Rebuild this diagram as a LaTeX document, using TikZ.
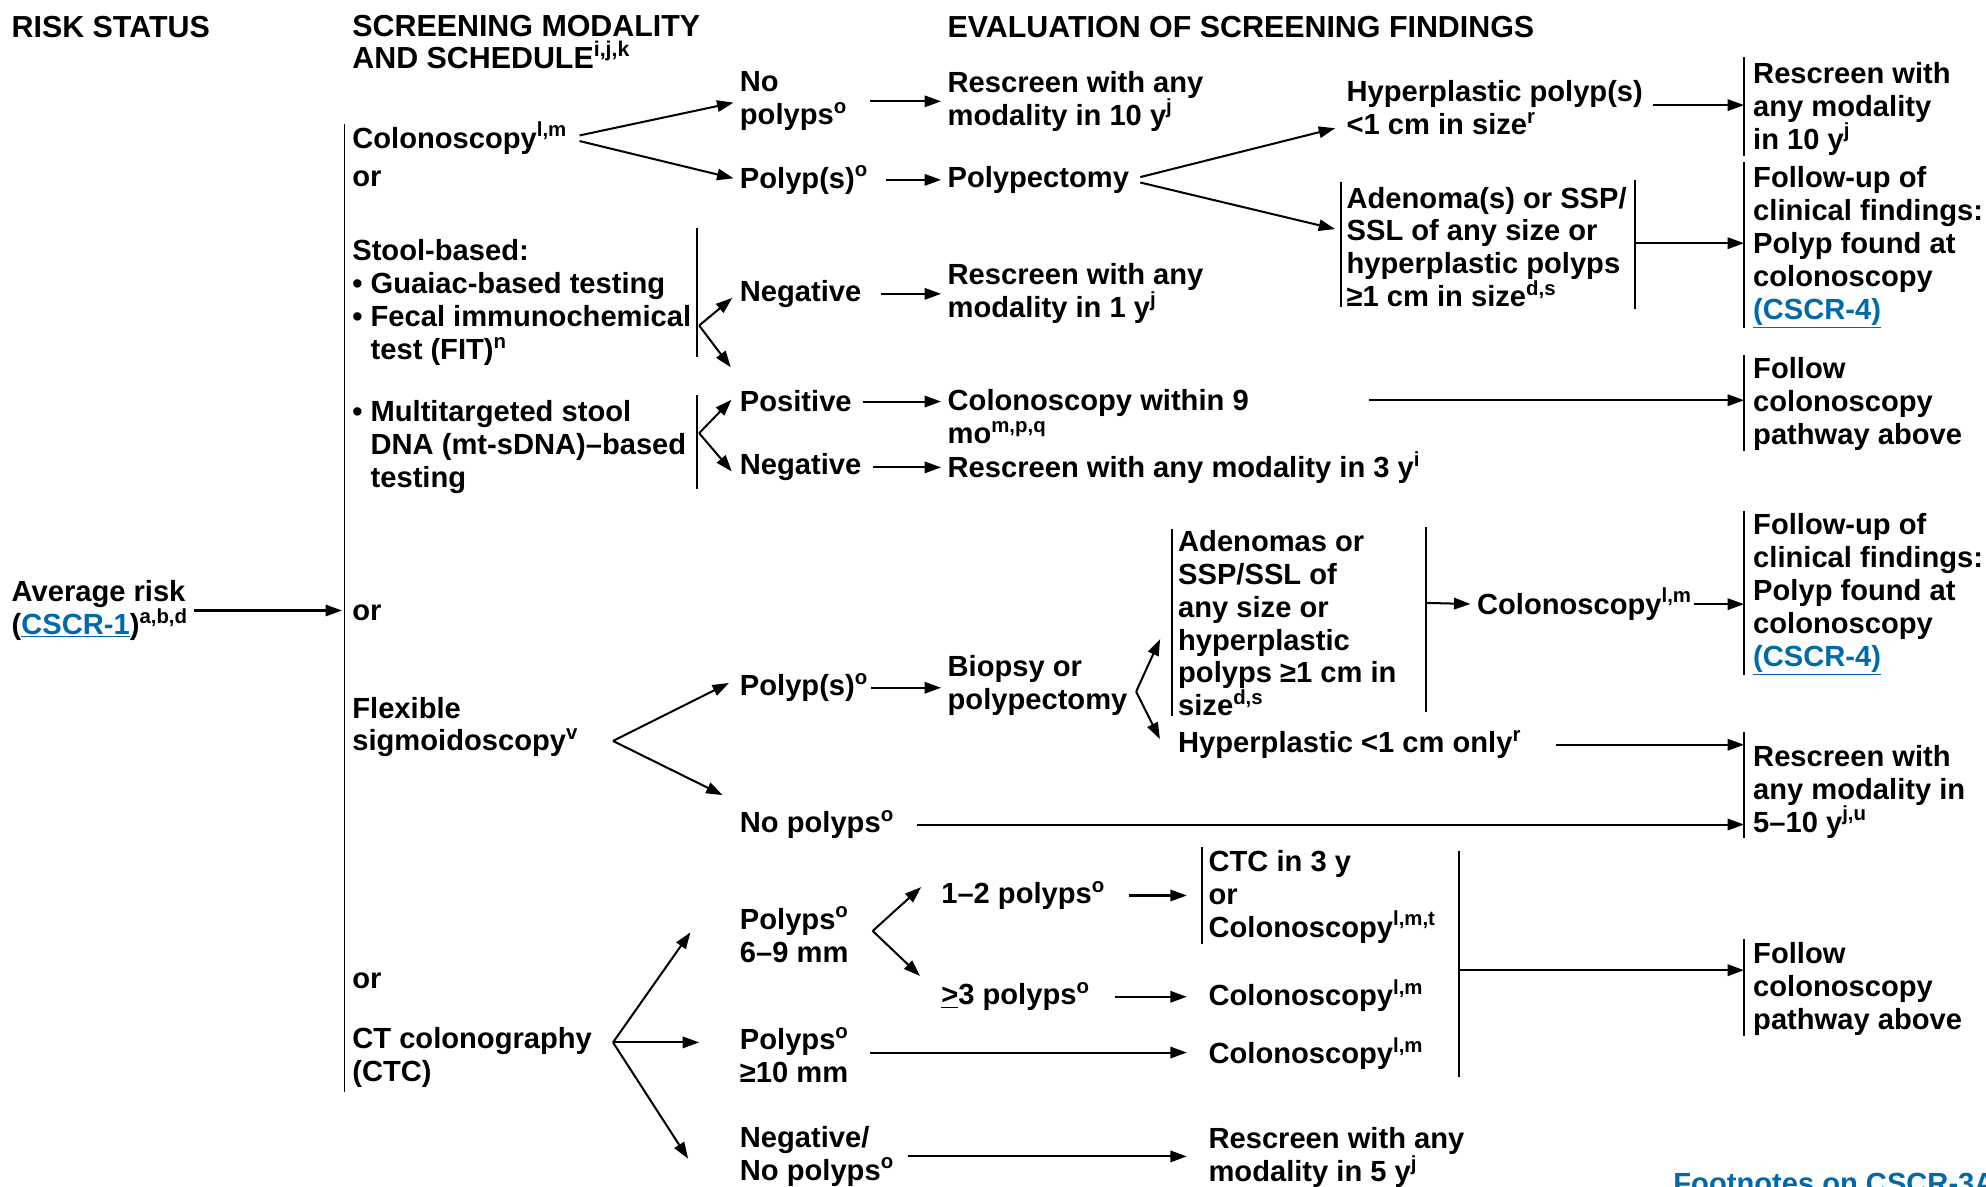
\documentclass[tikz,border=0pt]{standalone}
\usepackage{fontspec}
\setmainfont{Liberation Sans}
\usepackage{tikz}
\usetikzlibrary{arrows.meta}
\definecolor{nccnblue}{RGB}{0,105,170}
\newcommand{\lnk}[1]{\textcolor{nccnblue}{\underline{#1}}}
\newcommand{\sps}[1]{\textsuperscript{#1}}

\begin{document}
\begin{tikzpicture}[x=1pt,y=-1pt,
	txt/.style={anchor=west,align=left,inner sep=0pt,yshift=-2pt,font=\fontsize{23}{26}\selectfont\bfseries},
	head/.style={txt,font=\fontsize{24}{25}\selectfont\bfseries},
	arr/.style={-{Triangle[length=13pt,width=9pt]},line width=1.6pt,shorten >=5pt},
	bar/.style={line width=1.5pt}]

	\useasboundingbox (0,0) rectangle (1568,937);

	%% Headings %%
	\node [head] (hrisk) at (9,19) {RISK STATUS};
	\node [head] (hscreen) at (278,31) {SCREENING MODALITY\\AND SCHEDULE\sps{i,j,k}};
	\node [head] (heval) at (748,19) {EVALUATION OF SCREENING FINDINGS};

	%% Risk Status %%
	\node [txt] (avg) at (9,480) {Average risk\\(\lnk{CSCR-1})\sps{a,b,d}};
	\coordinate (spinetop) at (272,98);
	\coordinate (spinebot) at (272,862);
	\draw [bar] (spinetop) -- (spinebot);
	\draw [arr,shorten <=5pt,shorten >=2pt] (avg.east) -- (avg.east -| spinetop);

	%% Screening Modalities %%
	\node [txt] (colo) at (278,107) {Colonoscopy\sps{l,m}};
	\node [txt] (or1) at (278,139) {or};
	\node [txt] (stool) at (278,237) {Stool-based:\\• Guaiac-based testing\\• Fecal immunochemical\\\phantom{• }test (FIT)\sps{n}};
	\node [txt] (mts) at (278,351) {• Multitargeted stool\\\phantom{• }DNA (mt-sDNA)–based\\\phantom{• }testing};
	\node [txt] (or2) at (278,482) {or};
	\node [txt] (flex) at (278,572) {Flexible\\sigmoidoscopy\sps{v}};
	\node [txt] (or3) at (278,772) {or};
	\node [txt] (ctc) at (278,833) {CT colonography\\(CTC)};
	\draw [bar] (550,180) -- (550,282);
	\draw [bar] (550,312) -- (550,386);

	%% Colonoscopy %%
	\node [txt] (nopol) at (584,78) {No\\polyps\sps{o}};
	\node [txt] (polyp) at (584,140) {Polyp(s)\sps{o}};
	\node [txt] (rs10) at (748,78) {Rescreen with any\\modality in 10 y\sps{j}};
	\node [txt] (polypect) at (748,140) {Polypectomy};
	\node [txt] (hyp) at (1063,83) {Hyperplastic polyp(s)\\<1 cm in size\sps{r}};
	\node [txt] (aden) at (1063,193) {Adenoma(s) or SSP/\\SSL of any size or\\hyperplastic polyps\\≥1 cm in size\sps{d,s}};
	\node [txt] (rs10b) at (1384,84) {Rescreen with\\any modality\\in 10 y\sps{j}};
	\node [txt] (fu1) at (1384,193) {Follow-up of\\clinical findings:\\Polyp found at\\colonoscopy\\\lnk{(CSCR-4)}};
	\draw [arr,shorten <=10pt] (colo.east) -- (nopol.west);
	\draw [arr,shorten <=10pt] (colo.east) -- (polyp.west);
	\draw [arr,shorten <=18pt] (nopol.east) -- (rs10.west);
	\draw [arr,shorten <=14pt] (polyp.east) -- (polypect.west);
	\draw [arr,shorten <=9pt] (polypect.east) -- ([xshift=-4pt,yshift=-15pt]hyp.west);
	\draw [arr,shorten <=9pt] (polypect.east) -- ([xshift=-4pt,yshift=13pt]aden.west);
	\draw [arr,shorten <=8pt,shorten >=7pt] ([yshift=2pt]hyp.east) -- ([yshift=2pt]hyp.east -| rs10b.west);
	\draw [bar] (1291,142) -- (1291,244);
	\coordinate (adenout) at (1291,192);
	\draw [arr,shorten >=7pt] (adenout) -- (adenout -| fu1.west);

	%% Stool-based Tests %%
	\coordinate (sfork) at (552,257);
	\coordinate (mfork) at (552,342);
	\node [txt] (neg1) at (584,230) {Negative};
	\node [txt] (rs1) at (748,230) {Rescreen with any\\modality in 1 y\sps{j}};
	\node [txt] (pos) at (584,315) {Positive};
	\node [txt] (cw9) at (748,327) {Colonoscopy within 9\\mo\sps{m,p,q}};
	\node [txt] (neg2) at (584,367) {Negative};
	\node [txt] (rs3) at (748,367) {Rescreen with any modality in 3 y\sps{i}};
	\node [txt] (follow1) at (1384,317) {Follow\\colonoscopy\\pathway above};
	\draw [arr] (sfork) -- ([xshift=-2pt]neg1.west);
	\draw [arr] (sfork) -- ([xshift=-4pt,yshift=23pt]pos.west);
	\draw [arr] (mfork) -- ([xshift=-3pt,yshift=5pt]pos.west);
	\draw [arr] (mfork) -- ([xshift=-3pt,yshift=-7pt]neg2.west);
	\draw [arr,shorten <=15pt] (neg1.east) -- (neg1.east -| rs1.west);
	\draw [arr,shorten <=9pt] (pos.east) -- (pos.east -| cw9.west);
	\draw [arr,shorten <=9pt] (neg2.east) -- (rs3.west);
	\coordinate (cw9out) at (1081,316);
	\draw [arr,shorten >=7pt] (cw9out) -- (cw9out -| follow1.west);

	%% Flexible Sigmoidoscopy %%
	\coordinate (ffork) at (484,585);
	\coordinate (bfork) at (897,546);
	\node [txt] (fpol) at (584,541) {Polyp(s)\sps{o}};
	\node [txt] (fnopol) at (584,649) {No polyps\sps{o}};
	\node [txt] (biopsy) at (748,539) {Biopsy or\\polypectomy};
	\node [txt] (aden2) at (930,490) {Adenomas or\\SSP/SSL of\\any size or\\hyperplastic\\polyps ≥1 cm in\\size\sps{d,s}};
	\node [txt] (hyp2) at (930,586) {Hyperplastic <1 cm only\sps{r}};
	\node [txt] (colo2) at (1166,475) {Colonoscopy\sps{l,m}};
	\node [txt] (fu2) at (1384,467) {Follow-up of\\clinical findings:\\Polyp found at\\colonoscopy\\\lnk{(CSCR-4)}};
	\node [txt] (rs510) at (1384,623) {Rescreen with\\any modality in\\5–10 y\sps{j,u}};
	\draw [arr] (ffork) -- ([xshift=-4pt,yshift=6pt]fpol.west);
	\draw [arr] (ffork) -- ([xshift=-9pt,yshift=21pt]fnopol.west);
	\draw [arr,shorten <=2pt] (fpol.east) -- (fpol.east -| biopsy.west);
	\draw [arr] (bfork) -- ([xshift=-12pt,yshift=-8pt]aden2.west);
	\draw [arr] (bfork) -- ([xshift=-12pt]hyp2.west);
	\draw [bar] (1126,416) -- (1126,562);
	\coordinate (adenout2) at (1126,476);
	\draw [arr] (adenout2) -- (colo2.west);
	\draw [arr,shorten <=2pt,shorten >=7pt] (colo2.east) -- (colo2.east -| fu2.west);
	\draw [arr,shorten <=27pt,shorten >=7pt] (hyp2.east) -- (hyp2.east -| rs510.west);
	\draw [arr,shorten <=18pt,shorten >=7pt] (fnopol.east) -- (fnopol.east -| rs510.west);

	%% CT Colonography %%
	\coordinate (cfork) at (484,823);
	\coordinate (pfork) at (689,735);
	\node [txt] (p69) at (584,736) {Polyps\sps{o}\\6–9 mm};
	\node [txt] (p10) at (584,831) {Polyps\sps{o}\\≥10 mm};
	\node [txt] (negctc) at (584,911) {Negative/\\No polyps\sps{o}};
	\node [txt] (n12) at (743,705) {1–2 polyps\sps{o}};
	\node [txt] (n3) at (743,785) {\underline{>}3 polyps\sps{o}};
	\node [txt] (ctc3) at (954,706) {CTC in 3 y\\or\\Colonoscopy\sps{l,m,t}};
	\node [txt] (colo3) at (954,784) {Colonoscopy\sps{l,m}};
	\node [txt] (colo4) at (954,830) {Colonoscopy\sps{l,m}};
	\node [txt] (rs5) at (954,912) {Rescreen with any\\modality in 5 y\sps{j}};
	\node [txt] (follow2) at (1384,779) {Follow\\colonoscopy\\pathway above};
	\draw [arr] (cfork) -- ([xshift=-36pt,yshift=6pt]p69.west);
	\draw [arr] (cfork) -- ([xshift=-27pt,yshift=10pt]p10.west);
	\draw [arr] (cfork) -- ([xshift=-38pt,yshift=-6pt]negctc.west);
	\draw [arr] (pfork) -- ([xshift=-12pt,yshift=10pt]n12.west);
	\draw [arr] (pfork) -- ([xshift=-13pt,yshift=13pt]n3.west);
	\draw [arr,shorten <=19pt,shorten >=17pt] (n12.east) -- (n12.east -| ctc3.west);
	\draw [arr,shorten <=20pt,shorten >=17pt] (n3.east) -- (n3.east -| colo3.west);
	\draw [arr,shorten <=17pt,shorten >=17pt] ([yshift=2pt]p10.east) -- ([yshift=2pt]p10.east -| colo4.west);
	\draw [arr,shorten <=11pt,shorten >=17pt] (negctc.east) -- (negctc.east -| rs5.west);
	\draw [bar] (1152,672) -- (1152,850);
	\coordinate (ctcout) at (1152,766);
	\draw [arr,shorten >=7pt] (ctcout) -- (ctcout -| follow2.west);

	%% Side Bars %%
	\foreach \n/\d/\t in {rs10b/7/4, fu1/7/3, follow1/7/2, fu2/7/2, rs510/7/10, follow2/7/3, aden/4/4, aden2/5/1, ctc3/5/2}
		\draw [bar] ([xshift=-\d pt,yshift=\t pt]\n.north west) -- ([xshift=-\d pt]\n.south west);

	%% Footnote Link %%
	\node [txt,text=nccnblue] (foot) at (1321,932) {Footnotes on CSCR-3A};

\end{tikzpicture}
\end{document}
